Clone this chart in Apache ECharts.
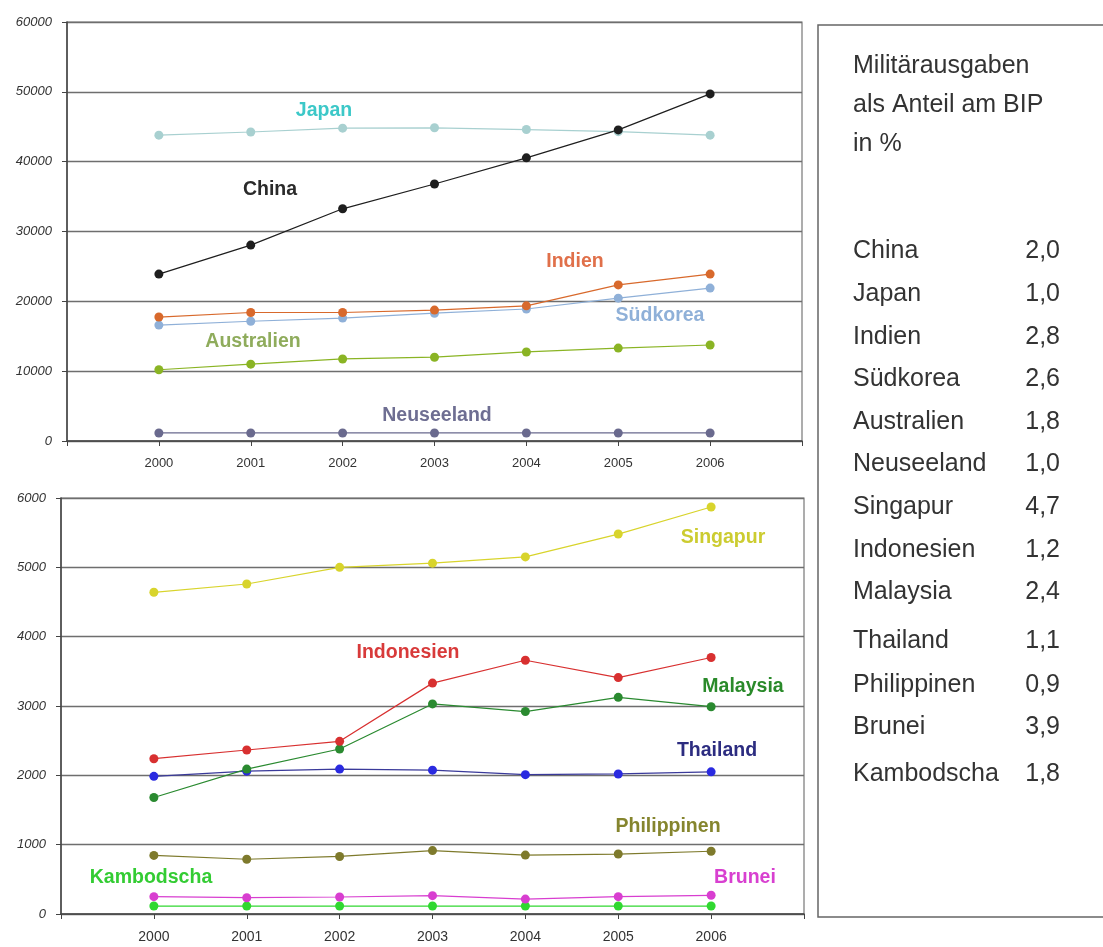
<!DOCTYPE html>
<html>
<head>
<meta charset="utf-8">
<script src="https://cdn.jsdelivr.net/npm/echarts@6/dist/echarts.min.js"></script>
<style>
  html, body { margin: 0; padding: 0; background: #ffffff; }
  #chart { width: 1103px; height: 947px; }
</style>
</head>
<body>
<div id="chart"></div>
<script>
// Jahre
const years = [2000, 2001, 2002, 2003, 2004, 2005, 2006];

// Militärausgaben, obere Gruppe
const china      = [23900, 28050, 33250, 36800, 40550, 44550, 49700];
const japan      = [43800, 44250, 44800, 44850, 44600, 44300, 43800];
const indien     = [17750, 18400, 18400, 18750, 19350, 22350, 23900];
const suedkorea  = [16600, 17150, 17600, 18300, 18900, 20450, 21900];
const australien = [10200, 11000, 11750, 12000, 12750, 13300, 13750];
const neuseeland = [1150, 1150, 1150, 1150, 1150, 1150, 1150];

// Militärausgaben, untere Gruppe
const singapur    = [4640, 4760, 5000, 5060, 5150, 5480, 5870];
const indonesien  = [2240, 2365, 2490, 3330, 3660, 3410, 3700];
const malaysia    = [1680, 2090, 2380, 3030, 2920, 3125, 2990];
const thailand    = [1985, 2060, 2090, 2075, 2010, 2020, 2050];
const philippinen = [845, 790, 830, 915, 850, 865, 905];
const brunei      = [250, 235, 245, 265, 215, 250, 270];
const kambodscha  = [115, 115, 115, 115, 115, 115, 115];

// Achsenbeschriftungen
const topTicks = [0, 10000, 20000, 30000, 40000, 50000, 60000];
const bottomTicks = [0, 1000, 2000, 3000, 4000, 5000, 6000];

// Anteil am BIP in %
const shareNames  = ['China', 'Japan', 'Indien', 'Südkorea', 'Australien', 'Neuseeland', 'Singapur',
                     'Indonesien', 'Malaysia', 'Thailand', 'Philippinen', 'Brunei', 'Kambodscha'];
const shareValues = ['2,0', '1,0', '2,8', '2,6', '1,8', '1,0', '4,7', '1,2', '2,4', '1,1', '0,9', '3,9', '1,8'];

const FONT = '"Liberation Sans", Arial, Helvetica, sans-serif';

function pairs(vals) { return years.map((y, i) => [y, vals[i]]); }

function lineSeries(name, vals, grid, lineColor, markColor) {
  return {
    name: name,
    type: 'line',
    xAxisIndex: grid,
    yAxisIndex: grid,
    data: pairs(vals),
    symbol: 'circle',
    symbolSize: 9,
    showSymbol: true,
    lineStyle: { color: lineColor, width: 1.2 },
    itemStyle: { color: markColor || lineColor },
    emphasis: { disabled: true },
    animation: false
  };
}

function xAxis(grid, size) {
  return {
    type: 'value', gridIndex: grid, min: 1999, max: 2007, interval: 1,
    axisLine: { show: true, lineStyle: { color: '#444', width: 1.5 } },
    axisTick: { show: true, length: 5, lineStyle: { color: '#444' } },
    splitLine: { show: false },
    axisLabel: {
      margin: 16, fontSize: size, color: '#333', fontFamily: FONT,
      formatter: v => (v >= years[0] && v <= years[years.length - 1]) ? String(v) : ''
    }
  };
}

function yAxis(grid, ticks) {
  return {
    type: 'value', gridIndex: grid,
    min: ticks[0], max: ticks[ticks.length - 1], interval: ticks[1] - ticks[0],
    axisLine: { show: true, lineStyle: { color: '#444', width: 1.5 } },
    axisTick: { show: true, length: 5, lineStyle: { color: '#444' } },
    splitLine: { show: true, lineStyle: { color: '#6e6e6e', width: 1.4 } },
    axisLabel: {
      margin: 15, fontSize: 13, fontStyle: 'italic', color: '#333', fontFamily: FONT,
      formatter: v => String(v)
    }
  };
}

function seriesLabel(text, x, y, color) {
  return {
    type: 'text', x: x, y: y, silent: true,
    style: {
      text: text, fill: color, font: 'bold 19.5px ' + FONT,
      textAlign: 'center', textVerticalAlign: 'middle'
    }
  };
}

const labels = [
  seriesLabel('Japan', 324, 111, '#3cc8c8'),
  seriesLabel('China', 270, 190, '#2a2a2a'),
  seriesLabel('Indien', 575, 262, '#e0704a'),
  seriesLabel('Südkorea', 660, 316, '#8fb0d8'),
  seriesLabel('Australien', 253, 342, '#8fac5c'),
  seriesLabel('Neuseeland', 437, 416, '#6e6e92'),
  seriesLabel('Singapur', 723, 538, '#cccc30'),
  seriesLabel('Indonesien', 408, 653, '#d83a3a'),
  seriesLabel('Malaysia', 743, 687, '#2a8a2a'),
  seriesLabel('Thailand', 717, 751, '#2c2c80'),
  seriesLabel('Philippinen', 668, 827, '#85852e'),
  seriesLabel('Brunei', 745, 878, '#d840d0'),
  seriesLabel('Kambodscha', 151, 878, '#33cc33')
];

// Tabelle im rechten Kasten
const rowY = [251, 294, 337, 379, 422, 464, 507, 550, 592, 641, 685, 727, 774];
const table = [];
shareNames.forEach((n, i) => {
  table.push({
    type: 'text', x: 853, y: rowY[i], silent: true,
    style: { text: n, fill: '#333', font: '25px ' + FONT, textAlign: 'left', textVerticalAlign: 'middle' }
  });
  table.push({
    type: 'text', x: 1060, y: rowY[i], silent: true,
    style: { text: shareValues[i], fill: '#333', font: '25px ' + FONT, textAlign: 'right', textVerticalAlign: 'middle' }
  });
});

const option = {
  backgroundColor: '#ffffff',
  animation: false,
  grid: [
    { left: 67, top: 22, width: 735, height: 419, show: true, borderColor: '#777', borderWidth: 1.2 },
    { left: 61, top: 498, width: 743, height: 416, show: true, borderColor: '#777', borderWidth: 1.2 }
  ],
  xAxis: [xAxis(0, 13), xAxis(1, 14)],
  yAxis: [yAxis(0, topTicks), yAxis(1, bottomTicks)],
  series: [
    lineSeries('Neuseeland', neuseeland, 0, '#6a6a8e'),
    lineSeries('Australien', australien, 0, '#8ab424'),
    lineSeries('Südkorea', suedkorea, 0, '#8fb0d8'),
    lineSeries('Indien', indien, 0, '#d8692c'),
    lineSeries('Japan', japan, 0, '#a8d0d0'),
    lineSeries('China', china, 0, '#1e1e1e'),
    lineSeries('Kambodscha', kambodscha, 1, '#30d830'),
    lineSeries('Brunei', brunei, 1, '#d83ed0'),
    lineSeries('Philippinen', philippinen, 1, '#7e7a2c'),
    lineSeries('Thailand', thailand, 1, '#3a3a9a', '#2a2ae0'),
    lineSeries('Malaysia', malaysia, 1, '#2a8a30'),
    lineSeries('Indonesien', indonesien, 1, '#d83030'),
    lineSeries('Singapur', singapur, 1, '#d8d42c')
  ],
  graphic: [
    {
      type: 'rect', silent: true,
      shape: { x: 818, y: 25, width: 300, height: 892 },
      style: { fill: 'none', stroke: '#666', lineWidth: 1.5 }
    },
    {
      type: 'text', x: 853, y: 47, silent: true,
      style: {
        text: 'Militärausgaben\nals Anteil am BIP\nin %',
        fill: '#333', font: '25px ' + FONT, lineHeight: 39,
        textAlign: 'left', textVerticalAlign: 'top'
      }
    }
  ].concat(table, labels)
};

const chart = echarts.init(document.getElementById('chart'), null, { renderer: 'canvas' });
chart.setOption(option);
</script>
</body>
</html>
